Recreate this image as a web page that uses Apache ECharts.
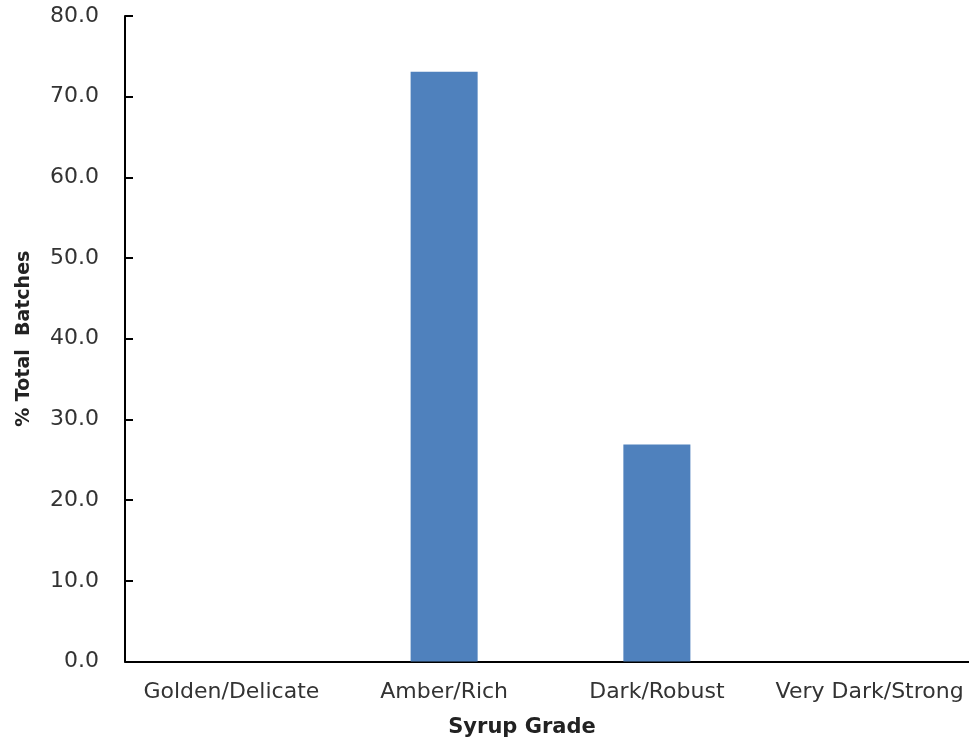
<!DOCTYPE html>
<html><head><meta charset="utf-8">
<script src="https://cdn.jsdelivr.net/npm/echarts@6/dist/echarts.min.js"></script>
<style>html,body{margin:0;padding:0;background:#fff}#c{width:969px;height:742px}</style>
</head><body><div id="c"></div>
<script>
const categories = ['Golden/Delicate', 'Amber/Rich', 'Dark/Robust', 'Very Dark/Strong'];
const values = [0, 73.1, 26.9, 0];
const yTicks = { min: 0, max: 80, interval: 10 };
const xTitle = 'Syrup Grade';
const yTitle = '% Total  Batches';

const font = '"DejaVu Sans", "Noto Sans", sans-serif';
const chart = echarts.init(document.getElementById('c'));
chart.setOption({
  animation: false,
  backgroundColor: '#fff',
  grid: { left: 125, top: 16, width: 851, height: 645.5, containLabel: false, outerBoundsMode: 'none' },
  xAxis: {
    type: 'category', data: categories,
    axisLine: { lineStyle: { color: '#000', width: 2 } },
    axisTick: { show: false },
    axisLabel: { color: '#333', fontFamily: font, fontSize: 22, margin: 20, interval: 0, hideOverlap: false },
    name: xTitle, nameLocation: 'middle', nameGap: 56,
    nameTextStyle: { color: '#222', fontFamily: font, fontSize: 21, fontWeight: 'bold', padding: [0, 0, 0, -57] }
  },
  yAxis: {
    type: 'value', min: yTicks.min, max: yTicks.max, interval: yTicks.interval,
    splitLine: { show: false },
    axisLine: { show: true, lineStyle: { color: '#000', width: 2 } },
    axisTick: { show: true, inside: true, length: 8, lineStyle: { color: '#000', width: 2 } },
    axisLabel: { color: '#333', fontFamily: font, fontSize: 22, margin: 26, formatter: v => v.toFixed(1) },
    name: yTitle, nameLocation: 'middle', nameGap: 91, nameRotate: 90,
    nameTextStyle: { color: '#222', fontFamily: font, fontSize: 19, fontWeight: 'bold' }
  },
  series: [{
    type: 'bar', data: values, barWidth: '31.5%',
    itemStyle: { color: '#4F81BD' }
  }]
});
</script></body></html>
